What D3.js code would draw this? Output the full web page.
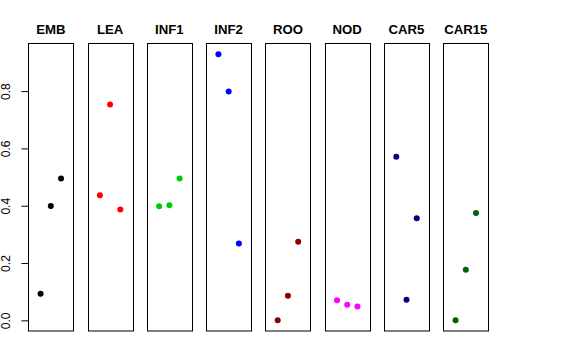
<!DOCTYPE html>
<html>
<head>
<meta charset="utf-8">
<script src="https://cdn.jsdelivr.net/npm/d3@7"></script>
<style>
  body { margin: 0; background: #fff; }
  svg { display: block; }
</style>
</head>
<body>
<svg id="chart" width="576" height="360"></svg>
<script>
// one panel per tissue, three points each
const tissues = ['EMB', 'LEA', 'INF1', 'INF2', 'ROO', 'NOD', 'CAR5', 'CAR15'];
const colors = ['#000000', '#FF0000', '#00CD00', '#0000FF', '#8B0000', '#FF00FF', '#000080', '#006400'];
const values = [
  [0.093, 0.399, 0.495],
  [0.437, 0.753, 0.387],
  [0.398, 0.402, 0.495],
  [0.929, 0.799, 0.268],
  [0.000, 0.086, 0.274],
  [0.070, 0.054, 0.048],
  [0.571, 0.072, 0.356],
  [0.000, 0.177, 0.375]
];
const yTicks = [0, 0.2, 0.4, 0.6, 0.8];

const svg = d3.select('#chart');
const plotTop = 43.5, plotBottom = 331;

// panels laid out with a band scale
const xPanel = d3.scaleBand()
  .domain(tissues)
  .range([28.3, 488.3])
  .paddingInner(0.241)
  .paddingOuter(0);

const y = d3.scaleLinear()
  .domain([-0.0372, 0.9662])
  .range([plotBottom, plotTop]);

// left axis, only on the first panel
const yAxis = d3.axisLeft(y)
  .tickValues(yTicks)
  .tickFormat(d3.format('.1f'))
  .tickSize(7)
  .tickSizeOuter(0);

const ax = svg.append('g')
  .attr('transform', `translate(${Math.round(xPanel('EMB')) + 0.5},0)`)
  .call(yAxis);
ax.select('.domain').attr('d', `M0,${y(0)}V${y(0.8)}`).attr('stroke', '#000');
ax.selectAll('.tick line').attr('stroke', '#000');
ax.selectAll('.tick text')
  .attr('font-family', 'Liberation Sans, Arial, sans-serif')
  .attr('font-size', 12)
  .attr('fill', '#000')
  .attr('text-anchor', 'middle')
  .attr('transform', 'rotate(-90)')
  .attr('x', 0)
  .attr('y', -19)
  .attr('dy', 0);

tissues.forEach((t, i) => {
  const x0 = xPanel(t);
  const x = d3.scaleLinear()
    .domain([-0.2, 4.2])
    .range([x0, x0 + xPanel.bandwidth()]);
  const g = svg.append('g');

  g.append('rect')
    .attr('x', Math.round(x0) + 0.5)
    .attr('y', plotTop)
    .attr('width', Math.round(xPanel.bandwidth()))
    .attr('height', plotBottom - plotTop)
    .attr('fill', 'none')
    .attr('stroke', '#000')
    .attr('stroke-width', 1);

  g.append('text')
    .attr('x', x(2))
    .attr('y', 34)
    .attr('text-anchor', 'middle')
    .attr('font-family', 'Liberation Sans, Arial, sans-serif')
    .attr('font-weight', 'bold')
    .attr('font-size', 13.2)
    .text(t);

  g.selectAll('circle')
    .data(values[i])
    .join('circle')
    .attr('cx', (d, j) => x(j + 1))
    .attr('cy', d => y(d))
    .attr('r', 3)
    .attr('fill', colors[i]);
});
</script>
</body>
</html>
